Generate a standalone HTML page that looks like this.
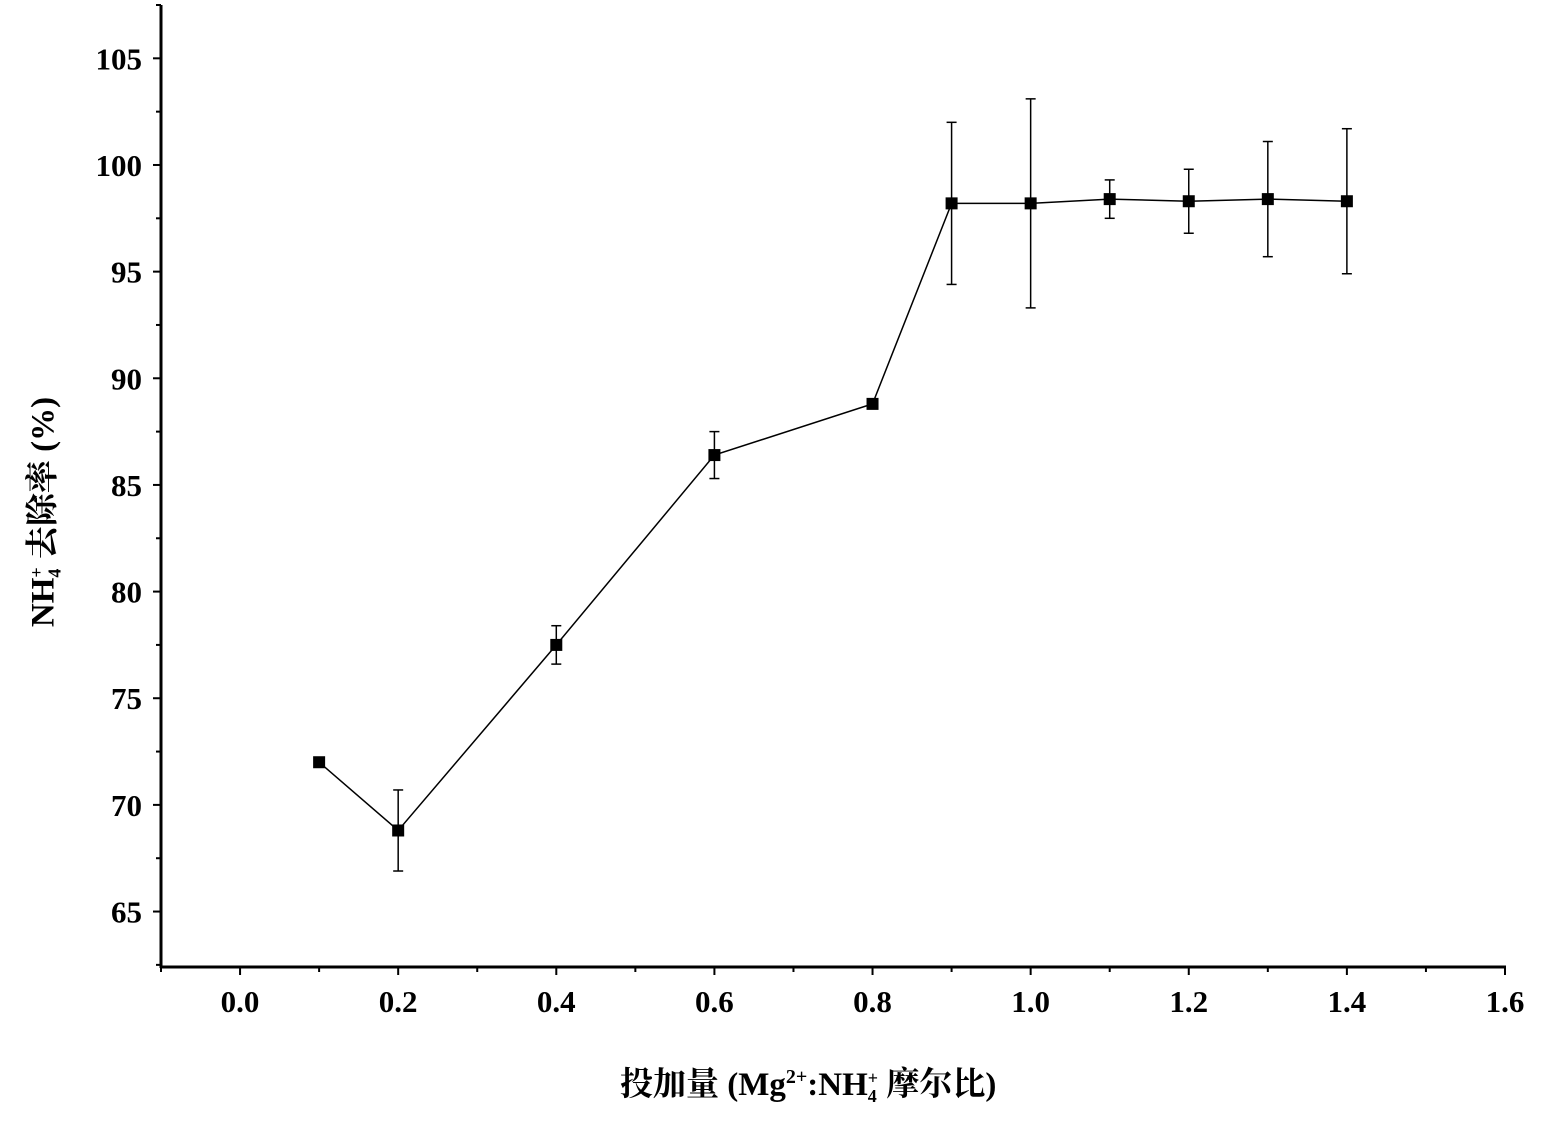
<!DOCTYPE html>
<html><head><meta charset="utf-8"><style>
html,body{margin:0;padding:0;background:#fff;}
svg text{font-family:"Liberation Serif","Noto Serif CJK SC",serif;font-weight:bold;fill:#000;}
</style></head><body>
<svg id="chart" width="1543" height="1129" xmlns="http://www.w3.org/2000/svg"></svg>
<script>
const xValues=[0.1,0.2,0.4,0.6,0.8,0.9,1.0,1.1,1.2,1.3,1.4];
const yValues=[72.0,68.8,77.5,86.4,88.8,98.2,98.2,98.4,98.3,98.4,98.3];
const yErrors=[0.1,1.9,0.9,1.1,0.1,3.8,4.9,0.9,1.5,2.7,3.4];
const xTicks=[0.0,0.2,0.4,0.6,0.8,1.0,1.2,1.4,1.6];
const yTicks=[65,70,75,80,85,90,95,100,105];
const X0=161,X1=1505,Y0=967,Y1=5;
const xMin=-0.1,xMax=1.6,yMin=62.4,yMax=107.5;
const sx=v=>X0+(v-xMin)/(xMax-xMin)*(X1-X0);
const sy=v=>Y0-(v-yMin)/(yMax-yMin)*(Y0-Y1);
const svg=document.getElementById('chart');
const NS='http://www.w3.org/2000/svg';
function mk(tag,attrs,parent){const e=document.createElementNS(NS,tag);for(const k in attrs)e.setAttribute(k,attrs[k]);(parent||svg).appendChild(e);return e;}
let e;
e=mk('line',{x1:X0,y1:Y0,x2:X1+1,y2:Y0,stroke:'#000','stroke-width':3});


e=mk('line',{x1:X0,y1:Y0+1,x2:X0,y2:Y1,stroke:'#000','stroke-width':3});


xTicks.forEach((t,i)=>{const x=sx(t);
 e=mk('line',{x1:x,y1:Y0,x2:x,y2:Y0+8,stroke:'#000','stroke-width':2});
 
 
 if(i<xTicks.length-1){const m=sx(t+0.1);
  e=mk('line',{x1:m,y1:Y0,x2:m,y2:Y0+5,stroke:'#000','stroke-width':2});
  
  }
 e=mk('text',{x:x,y:1012,'text-anchor':'middle','font-size':31});
 e.textContent=t.toFixed(1);
 
 
});
e=mk('line',{x1:sx(-0.1),y1:Y0,x2:sx(-0.1),y2:Y0+5,stroke:'#000','stroke-width':2});
yTicks.forEach(t=>{const y=sy(t);
 e=mk('line',{x1:X0,y1:y,x2:X0-8,y2:y,stroke:'#000','stroke-width':2});
 
 
 const m=sy(t-2.5);
 e=mk('line',{x1:X0,y1:m,x2:X0-5,y2:m,stroke:'#000','stroke-width':2});
 
 
 e=mk('text',{x:142,y:y+11,'text-anchor':'end','font-size':31});
 e.textContent=t;
 
 
});
e=mk('line',{x1:X0,y1:sy(107.5),x2:X0-5,y2:sy(107.5),stroke:'#000','stroke-width':2});
// line
let pts=xValues.map((v,i)=>sx(v)+','+sy(yValues[i])).join(' ');
e=mk('polyline',{points:pts,fill:'none',stroke:'#000','stroke-width':1.5});


xValues.forEach((v,i)=>{const x=sx(v),yt=sy(yValues[i]+yErrors[i]),yb=sy(yValues[i]-yErrors[i]);
 const g=mk('g',{});
 
 
 mk('line',{x1:x,y1:yt,x2:x,y2:yb,stroke:'#000','stroke-width':1.5},g);
 mk('line',{x1:x-5,y1:yt,x2:x+5,y2:yt,stroke:'#000','stroke-width':1.5},g);
 mk('line',{x1:x-5,y1:yb,x2:x+5,y2:yb,stroke:'#000','stroke-width':1.5},g);
 e=mk('rect',{x:x-6,y:sy(yValues[i])-6,width:12,height:12,fill:'#000'});
 
 
});
</script>
<div style="position:absolute;left:620px;top:1058px;font:bold 33px 'Liberation Serif','Noto Serif CJK SC',serif;white-space:nowrap;">投加量 (Mg<sup style="font-size:20px">2+</sup>:NH<span style="display:inline-flex;flex-direction:column;vertical-align:middle;font-size:18px;line-height:18px;"><span>+</span><span>4</span></span> 摩尔比)</div>
<div style="position:absolute;left:40px;top:512px;transform:translate(-50%,-50%) rotate(-90deg);font:bold 33px 'Liberation Serif','Noto Serif CJK SC',serif;white-space:nowrap;">NH<span style="display:inline-flex;flex-direction:column;vertical-align:middle;font-size:18px;line-height:18px;"><span>+</span><span>4</span></span> 去除率 (%)</div>
</body></html>
